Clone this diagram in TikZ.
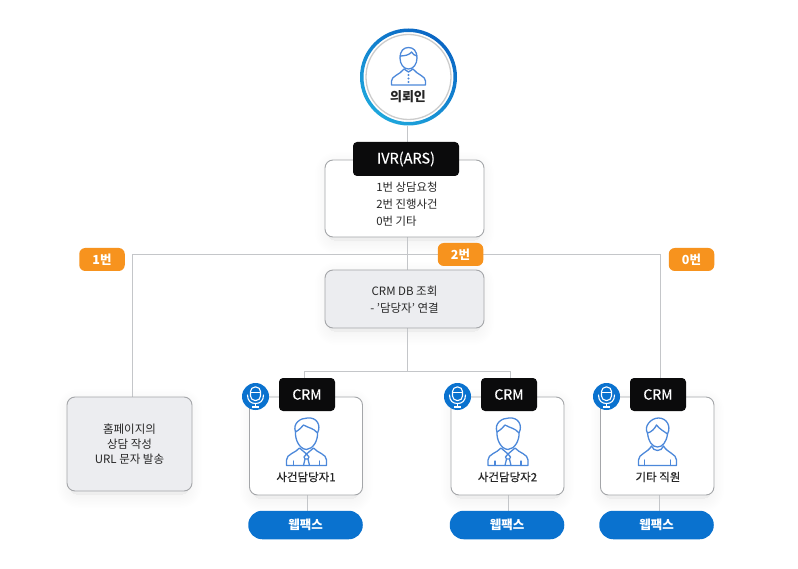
\documentclass[tikz,border=0pt]{standalone}
\usepackage{fontspec}
\setmainfont{Noto Sans CJK KR}
\newfontfamily\medfont[FakeBold=0.35]{Noto Sans CJK KR}
\usetikzlibrary{calc}
\definecolor{conn}{HTML}{C4C6C9}
\definecolor{edge}{HTML}{A4A6A9}
\definecolor{blk}{HTML}{0B0B0C}
\definecolor{panelgray}{HTML}{ECEDF0}
\definecolor{orng}{HTML}{F7931E}
\definecolor{brandblue}{HTML}{0A72CF}
\definecolor{ringstart}{HTML}{0A66C4}
\definecolor{ringend}{HTML}{1EA6DC}
\definecolor{iconblue}{HTML}{4C88DA}
\definecolor{txt}{HTML}{262626}
\newcommand{\softshade}[4]{%
  \foreach \w in {26,23,20,17,14,11,8,5,2}{%
    \draw[black,opacity=.0055,fill=black,line width=\w pt,rounded corners=8pt,line join=round] (#1+3,#2+5) rectangle (#3-3,#4+4);}}
\tikzset{
  x=1pt,y=-1pt,
  connector/.style={draw=conn,line width=1pt},
  card/.style={draw=edge,line width=.9pt,fill=white,rounded corners=8pt,inner sep=0pt,align=center,font=\fontsize{11.5}{17}\selectfont,text=txt},
  graycard/.style={card,fill=panelgray},
  blackhead/.style={fill=blk,rounded corners=4pt,inner sep=0pt,text=white},
  orangetag/.style={fill=orng,rounded corners=6pt,inner sep=0pt,minimum width=45.5pt,minimum height=23pt,text=white,font=\fontsize{12.5}{14}\bfseries\selectfont},
  pill/.style={fill=brandblue,rounded corners=14pt,inner sep=0pt,minimum width=114.5pt,minimum height=28.5pt,text=white,font=\fontsize{12.5}{14}\bfseries\selectfont},
  micdisc/.style={circle,fill=brandblue,inner sep=0pt,minimum size=27pt},
  caption/.style={inner sep=0pt,text=txt,font=\fontsize{11.5}{13}\medfont},
  iconline/.style={draw=iconblue,line width=1.3pt,line join=round,line cap=round,fill=none},
  requester/.pic={
    \draw[iconline] (-8.5,-9) .. controls (-8.5,-16) and (-5,-19.5) .. (0,-19.5) .. controls (5,-19.5) and (8.5,-16) .. (8.5,-9)
      .. controls (8.5,-3) and (5,2) .. (0,2) .. controls (-5,2) and (-8.5,-3) .. (-8.5,-9) -- cycle;
    \draw[iconline] (-8.5,-11) .. controls (-4,-11) and (1,-12) .. (3,-15) .. controls (4,-13) and (6,-11.5) .. (8.5,-11);
    \draw[iconline] (-17,18) -- (-17,14) .. controls (-17,9) and (-9,8) .. (-4.5,2) -- (0,5) -- (4.5,2) .. controls (9,8) and (17,9) .. (17,14) -- (17,18) -- cycle;
    \fill[iconblue] (0,8) circle (1.1) (0,11.5) circle (1.1) (0,15) circle (1.1);
  },
  agent/.pic={
    \draw[iconline] (-11,-10) .. controls (-14,-19) and (-6,-24) .. (1,-24) .. controls (10,-25) and (15,-17) .. (11,-9)
      .. controls (11.5,-2) and (7,7) .. (0,7.5) .. controls (-7,7) and (-11.5,-2) .. (-11,-10) -- cycle;
    \draw[iconline] (-11,-10) .. controls (-6,-13) and (-5,-15) .. (-3,-17) .. controls (2,-14) and (7,-14) .. (11,-9);
    \draw[iconline] (-20,23.5) -- (-20,18) .. controls (-20,12) and (-11,11) .. (-7,6) -- (0,12) -- (7,6) .. controls (11,11) and (20,12) .. (20,18) -- (20,23.5) -- cycle;
    \draw[iconline] (0,12) -- (-2.5,15) -- (-1.5,17) -- (-3,23.5) (0,12) -- (2.5,15) -- (1.5,17) -- (3,23.5) (-1.5,17) -- (1.5,17);
    \draw[iconline] (-13,19) -- (-13,23.5) (13,19) -- (13,23.5);
  },
  staff/.pic={
    \draw[iconline] (-10,-9) .. controls (-14,-15) and (-7,-24) .. (1,-24) .. controls (9,-24) and (14,-16) .. (10,-8)
      .. controls (9,0) and (5,5) .. (0,5) .. controls (-5,5) and (-9,0) .. (-10,-9) -- cycle;
    \draw[iconline] (-10,-9) .. controls (-6,-10) and (-3,-13) .. (-1,-17) .. controls (2,-13) and (6,-11) .. (10,-8);
    \draw[iconline] (-19,23.5) -- (-19,18) .. controls (-19,12) and (-10,11) .. (-6,4) .. controls (-4,10) and (4,10) .. (6,4) .. controls (10,11) and (19,12) .. (19,18) -- (19,23.5) -- cycle;
    \draw[iconline] (-13,18) -- (-13,23.5) (13,18) -- (13,23.5);
  },
  micicon/.pic={
    \draw[white,line width=1.1pt,rounded corners=4.5pt] (-5,-9.5) rectangle (5,4);
    \draw[white,line width=1.1pt,line cap=round] (-8,-1.5) .. controls (-8,4.5) and (-4.5,7) .. (0,7) .. controls (4.5,7) and (8,4.5) .. (8,-1.5);
    \draw[white,line width=1.1pt] (0,7) -- (0,10.5) (-3.5,10.5) -- (3.5,10.5);
    \draw[white,line width=.7pt] (-5,-4) -- (5,-4);
  },
}
\begin{document}
\begin{tikzpicture}
\useasboundingbox[fill=white] (0,0) rectangle (798,569);
% soft shadows
\softshade{325}{160}{484}{237}
\softshade{325}{270}{484}{328}
\softshade{67}{397}{192}{491}
\softshade{249.5}{397}{362.5}{495}
\softshade{451}{397}{564}{495}
\softshade{600.5}{397}{714}{495}
% junctions
\coordinate (spine) at (407,255);
\coordinate (leftturn) at (132,255);
\coordinate (rightturn) at (660,255);
\coordinate (agentsplit) at (407,371);
\coordinate (agent1turn) at (304,371);
\coordinate (agent2turn) at (510,371);
% nodes placed first for names, painted after the connectors
\path node[circle,minimum size=97pt,inner sep=0pt] (client) at (408.5,77) {};
\path node[minimum width=159pt,minimum height=77pt,inner sep=0pt] (ivrspace) at (404.5,198.5) {};
\path node[minimum width=159pt,minimum height=58pt,inner sep=0pt] (dbspace) at (404.5,299) {};
\path node[minimum width=125pt,minimum height=94pt,inner sep=0pt] (homespace) at (129.5,444) {};
\path node[minimum width=56pt,minimum height=33pt,inner sep=0pt] (crmspaceA) at (307,394.5) {};
\path node[minimum width=56pt,minimum height=33pt,inner sep=0pt] (crmspaceB) at (509,394.5) {};
\path node[minimum width=56pt,minimum height=33pt,inner sep=0pt] (crmspaceC) at (658,394.5) {};
\path node[minimum width=114.5pt,minimum height=28.5pt,inner sep=0pt] (webexspaceA) at (305.5,525) {};
\path node[minimum width=114.5pt,minimum height=28.5pt,inner sep=0pt] (webexspaceB) at (507,525) {};
\path node[minimum width=114.5pt,minimum height=28.5pt,inner sep=0pt] (webexspaceC) at (656.5,525) {};
% connectors
\draw[connector] (spine |- client.south) -- (spine |- ivrspace.north);
\draw[connector] (spine |- ivrspace.south) -- (spine |- dbspace.north);
\draw[connector] (homespace.north -| leftturn) -- (leftturn) -- (rightturn) -- (rightturn |- crmspaceC.north);
\draw[connector] (spine |- dbspace.south) -- (agentsplit);
\draw[connector] (agent1turn |- crmspaceA.north) -- (agent1turn) -- (agent2turn) -- (agent2turn |- crmspaceB.north);
\coordinate (tA) at (307,495);
\coordinate (tB) at (508,495);
\coordinate (tC) at (659,495);
\draw[connector] (tA) -- (tA |- webexspaceA.north);
\draw[connector] (tB) -- (tB |- webexspaceB.north);
\draw[connector] (tC) -- (tC |- webexspaceC.north);
% client
\shade[left color=ringstart,right color=ringend,shading angle=-35,even odd rule] (408.5,77) circle (48.5) circle (45);
\draw[draw=black!20,line width=1.3pt] (408.5,77) circle (42.5);
\pic at (408.5,67) {requester};
\node[inner sep=0pt,text=txt,font=\fontsize{13}{15}\bfseries\selectfont] (clientname) at (408,97) {의뢰인};
% ivr
\node[card,minimum width=159pt,minimum height=77pt] (ivrbox) at (404.5,198.5) {};
\node[blackhead,minimum width=106pt,minimum height=34pt,font=\fontsize{14.5}{16}\medfont] (ivrtitle) at (406,159) {IVR(ARS)};
\node[inner sep=0pt,align=left,text=txt,font=\fontsize{11.4}{17}\selectfont] (ivrtext) at (407,204) {1번 상담요청\\2번 진행사건\\0번 기타};
% db
\node[graycard,minimum width=159pt,minimum height=58pt,text depth=0pt] (dbbox) at (404.5,299) {\raisebox{-1pt}{CRM DB 조회}\\\raisebox{-1pt}{- '담당자' 연결}};
% home
\node[graycard,minimum width=125pt,minimum height=94pt,font=\fontsize{11.5}{15}\selectfont] (homebox) at (129.5,444) {\raisebox{-1.5pt}{홈페이지의}\\\raisebox{-1.5pt}{상담 작성}\\\raisebox{-1.5pt}{URL 문자 발송}};
% tags
\node[orangetag] (tag1) at (102,259.5) {1번};
\node[orangetag] (tag2) at (460.5,254.5) {2번};
\node[orangetag] (tag0) at (691.5,259.5) {0번};
% agent cards
\node[card,minimum width=113pt,minimum height=98pt] (agentA) at (306,446) {};
\node[card,minimum width=113pt,minimum height=98pt] (agentB) at (507.5,446) {};
\node[card,minimum width=113.5pt,minimum height=98pt] (agentC) at (657.2,446) {};
\node[blackhead,minimum width=56pt,minimum height=33pt,font=\fontsize{14}{16}\medfont] (crmA) at (307,394.5) {CRM};
\node[blackhead,minimum width=56pt,minimum height=33pt,font=\fontsize{14}{16}\medfont] (crmB) at (509,394.5) {CRM};
\node[blackhead,minimum width=56pt,minimum height=33pt,font=\fontsize{14}{16}\medfont] (crmC) at (658,394.5) {CRM};
\node[micdisc] (micA) at (255.5,396.5) {};
\node[micdisc] (micB) at (457.5,396.5) {};
\node[micdisc] (micC) at (606.5,396.5) {};
\pic at (micA) {micicon};
\pic at (micB) {micicon};
\pic at (micC) {micicon};
\pic at (306.5,442) {agent};
\pic at (508,442) {agent};
\pic at (657.5,442) {staff};
\node[caption] (nameA) at (306,477) {사건담당자1};
\node[caption] (nameB) at (507.5,477) {사건담당자2};
\node[caption] (nameC) at (658,477) {기타 직원};
\node[pill] (webexA) at (305.5,525) {웹팩스};
\node[pill] (webexB) at (507,525) {웹팩스};
\node[pill] (webexC) at (656.5,525) {웹팩스};
\end{tikzpicture}
\end{document}
